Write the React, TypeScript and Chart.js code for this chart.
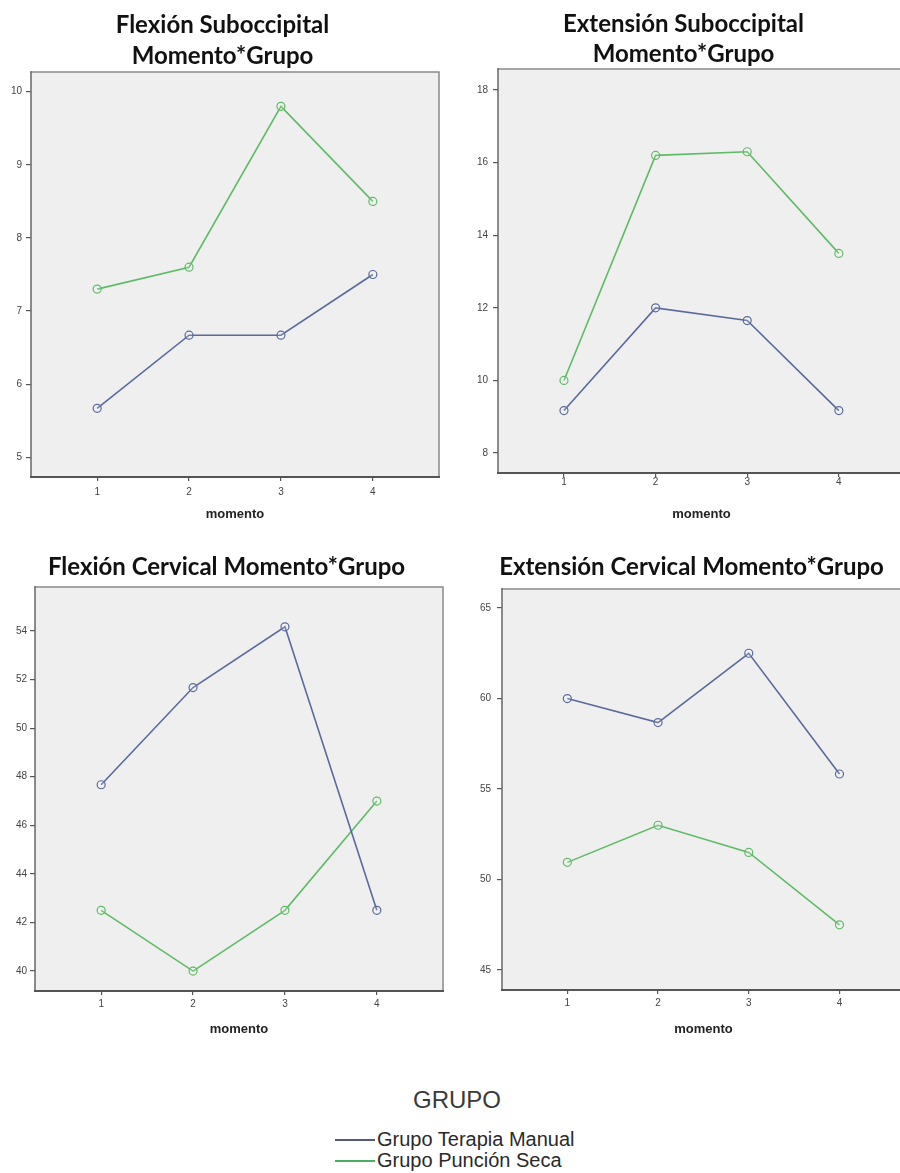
import React, { useEffect, useRef } from 'react';
import { Chart, registerables } from 'chart.js';

Chart.register(...registerables);

// ---------- data ----------
const momentos = [1, 2, 3, 4];
const groupLabels = ['Grupo Terapia Manual', 'Grupo Punción Seca'];
const legendTitle = 'GRUPO';
const xAxisTitle = 'momento';

const titleFlexSub = ['Flexión Suboccipital', 'Momento*Grupo'];
const flexSubManual = [5.67, 6.67, 6.67, 7.5];
const flexSubSeca = [7.3, 7.6, 9.8, 8.5];
const flexSubTicks = [5, 6, 7, 8, 9, 10];

const titleExtSub = ['Extensión Suboccipital', 'Momento*Grupo'];
const extSubManual = [9.17, 12.0, 11.65, 9.17];
const extSubSeca = [10.0, 16.2, 16.3, 13.5];
const extSubTicks = [8, 10, 12, 14, 16, 18];

const titleFlexCerv = 'Flexión Cervical Momento*Grupo';
const flexCervManual = [47.67, 51.67, 54.17, 42.5];
const flexCervSeca = [42.5, 40.0, 42.5, 47.0];
const flexCervTicks = [40, 42, 44, 46, 48, 50, 52, 54];

const titleExtCerv = 'Extensión Cervical Momento*Grupo';
const extCervManual = [60.0, 58.67, 62.5, 55.83];
const extCervSeca = [50.95, 53.0, 51.5, 47.5];
const extCervTicks = [45, 50, 55, 60, 65];

// ---------- styles ----------
const BLUE = '#5B6A9C';
const GREEN = '#5FBB66';
const PLOT_BG = '#EFEFEF';

type Panel = {
  left: number; top: number; width: number; height: number;
  title: string | string[];
  titleSize: number; titleLH: number; titlePadTop: number; titlePadBottom: number;
  padLeft: number; yWidth: number; xHeight: number; padRight: number;
  yMin: number; yMax: number; yTicks: number[];
  manual: number[]; seca: number[];
  yTickPad: number; xTickPad: number;
};

const panels: Panel[] = [
  {
    left: 0, top: 0, width: 450, height: 522,
    title: titleFlexSub, titleSize: 24, titleLH: 31 / 24, titlePadTop: 10, titlePadBottom: 0,
    padLeft: 6, yWidth: 25, xHeight: 45, padRight: 11,
    yMin: 4.73, yMax: 10.27, yTicks: flexSubTicks,
    manual: flexSubManual, seca: flexSubSeca, yTickPad: 4, xTickPad: 5,
  },
  {
    left: 450, top: 0, width: 460, height: 522,
    title: titleExtSub, titleSize: 24, titleLH: 30 / 24, titlePadTop: 9, titlePadBottom: 0,
    padLeft: 10, yWidth: 38, xHeight: 49, padRight: 3,
    yMin: 7.45, yMax: 18.58, yTicks: extSubTicks,
    manual: extSubManual, seca: extSubSeca, yTickPad: 5, xTickPad: -1,
  },
  {
    left: 0, top: 540, width: 450, height: 497,
    title: titleFlexCerv, titleSize: 24, titleLH: 30 / 24, titlePadTop: 12, titlePadBottom: 5,
    padLeft: 10, yWidth: 25, xHeight: 46, padRight: 7,
    yMin: 39.18, yMax: 55.81, yTicks: flexCervTicks,
    manual: flexCervManual, seca: flexCervSeca, yTickPad: 3, xTickPad: 3,
  },
  {
    left: 450, top: 540, width: 460, height: 497,
    title: titleExtCerv, titleSize: 24, titleLH: 30 / 24, titlePadTop: 12, titlePadBottom: 7,
    padLeft: 26, yWidth: 26, xHeight: 47, padRight: 3,
    yMin: 43.9, yMax: 66.05, yTicks: extCervTicks,
    manual: extCervManual, seca: extCervSeca, yTickPad: 6, xTickPad: 3,
  },
];

const framePlugin = {
  id: 'spssFrame',
  beforeDraw(chart: any) {
    const { ctx, chartArea: a } = chart;
    ctx.save();
    ctx.fillStyle = PLOT_BG;
    ctx.fillRect(a.left, a.top, a.right - a.left, a.bottom - a.top);
    ctx.restore();
  },
  beforeDatasetsDraw(chart: any) {
    const { ctx, chartArea: a } = chart;
    ctx.save();
    ctx.lineCap = 'square';
    ctx.strokeStyle = '#8a8a8a';
    ctx.lineWidth = 1.5;
    ctx.beginPath();
    ctx.moveTo(a.left, a.top);
    ctx.lineTo(a.right, a.top);
    ctx.lineTo(a.right, a.bottom);
    ctx.stroke();
    ctx.strokeStyle = '#666';
    ctx.beginPath();
    ctx.moveTo(a.left, a.top);
    ctx.lineTo(a.left, a.bottom);
    ctx.stroke();
    ctx.strokeStyle = '#555';
    ctx.lineWidth = 2;
    ctx.beginPath();
    ctx.moveTo(a.left, a.bottom);
    ctx.lineTo(a.right, a.bottom);
    ctx.stroke();
    ctx.restore();
  },
};

function toXY(vals: number[]) {
  return momentos.map((m, i) => ({ x: m, y: vals[i] }));
}

function PanelChart({ p }: { p: Panel }) {
  const ref = useRef<HTMLCanvasElement | null>(null);
  useEffect(() => {
    if (!ref.current) return;
    const ds = (label: string, vals: number[], color: string) => ({
      label,
      data: toXY(vals),
      borderColor: color,
      backgroundColor: 'rgba(255,255,255,0)',
      borderWidth: 1.6,
      pointRadius: 4,
      pointBorderWidth: 1.2,
      pointBorderColor: color,
      pointBackgroundColor: 'rgba(255,255,255,0.15)',
      tension: 0,
    });
    const chart = new Chart(ref.current, {
      type: 'line',
      data: {
        datasets: [ds(groupLabels[0], p.manual, BLUE), ds(groupLabels[1], p.seca, GREEN)],
      },
      options: {
        animation: false,
        responsive: false,
        devicePixelRatio: 1,
        layout: { padding: { left: p.padLeft, right: p.padRight, top: 0, bottom: 0 } },
        plugins: {
          legend: { display: false },
          tooltip: { enabled: false },
          title: {
            display: true,
            text: p.title,
            color: '#111',
            font: { family: 'Lato', weight: 'bold', size: p.titleSize, lineHeight: p.titleLH },
            padding: { top: p.titlePadTop, bottom: p.titlePadBottom },
          },
        },
        scales: {
          x: {
            type: 'linear',
            min: 0.28,
            max: 4.72,
            afterBuildTicks: (s: any) => { s.ticks = momentos.map((v) => ({ value: v })); },
            afterFit: (s: any) => { s.height = p.xHeight; },
            grid: { drawOnChartArea: false, drawTicks: true, tickLength: 4, color: '#555', lineWidth: 1.2 },
            border: { display: false },
            ticks: {
              padding: p.xTickPad,
              color: '#444',
              font: { family: 'Liberation Sans', size: 10 },
              maxRotation: 0,
            },
            title: {
              display: true,
              text: xAxisTitle,
              color: '#222',
              font: { family: 'Liberation Sans', weight: 'bold', size: 13 },
              padding: 0,
            },
          },
          y: {
            type: 'linear',
            min: p.yMin,
            max: p.yMax,
            afterBuildTicks: (s: any) => { s.ticks = p.yTicks.map((v) => ({ value: v })); },
            afterFit: (s: any) => { s.width = p.yWidth; },
            grid: { drawOnChartArea: false, drawTicks: true, tickLength: 5, color: '#555', lineWidth: 1.2 },
            border: { display: false },
            ticks: {
              padding: p.yTickPad,
              color: '#444',
              font: { family: 'Liberation Sans', size: 10 },
            },
          },
        },
      },
      plugins: [framePlugin],
    } as any);
    return () => chart.destroy();
  }, [p]);
  return (
    <canvas
      ref={ref}
      width={p.width}
      height={p.height}
      style={{ position: 'absolute', left: p.left, top: p.top, width: p.width, height: p.height }}
    />
  );
}

export default function App() {
  return (
    <div
      style={{
        position: 'absolute', left: 0, top: 0, width: 900, height: 1173,
        overflow: 'hidden', background: '#fff',
      }}
    >
      {panels.map((p, i) => <PanelChart key={i} p={p} />)}
      <div
        style={{
          position: 'absolute', left: 357, top: 1086, width: 200, textAlign: 'center',
          fontFamily: 'Liberation Sans', fontSize: 24, color: '#3a3a3a', lineHeight: '28px',
        }}
      >
        {legendTitle}
      </div>
      {groupLabels.map((g, i) => (
        <div
          key={g}
          style={{
            position: 'absolute', left: 335, top: 1129 + i * 21, height: 21,
            display: 'flex', alignItems: 'center',
            fontFamily: 'Liberation Sans', fontSize: 20, color: '#2a2a2a', whiteSpace: 'nowrap',
          }}
        >
          <span style={{ display: 'inline-block', width: 40, height: 0, borderTop: `2px solid ${i === 0 ? '#555b75' : '#4caf5f'}`, marginRight: 2 }} />
          <span>{g}</span>
        </div>
      ))}
    </div>
  );
}
